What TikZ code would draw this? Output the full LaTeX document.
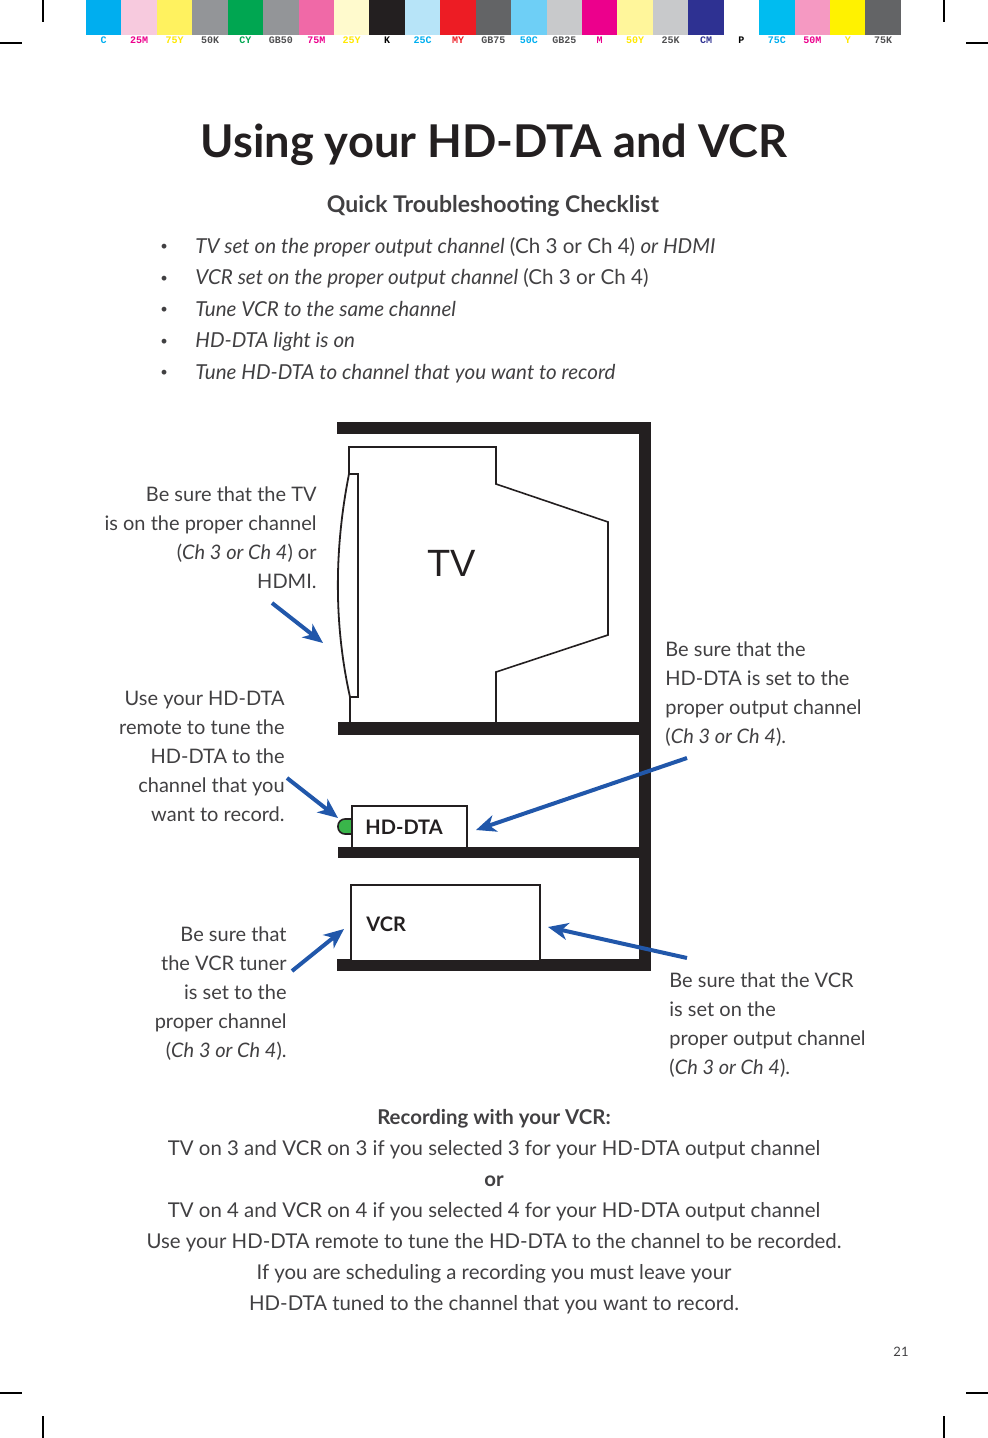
\documentclass[tikz,border=0pt]{standalone}
\usepackage{fontspec}
\setmainfont{Lato}
\newfontfamily\tvfont{Liberation Sans}
\newfontfamily\barfont{Liberation Mono}
\usetikzlibrary{calc, positioning, arrows.meta}
\definecolor{ink}{RGB}{35, 31, 32}
\definecolor{bodyText}{RGB}{65, 64, 66}
\definecolor{pointerBlue}{RGB}{33, 87, 170}
\definecolor{ledGreen}{RGB}{57, 181, 74}
% patch colours
\definecolor{pC}{RGB}{0, 174, 239}
\definecolor{p25M}{RGB}{247, 202, 222}
\definecolor{p75Y}{RGB}{255, 242, 95}
\definecolor{p50K}{RGB}{147, 149, 152}
\definecolor{pCY}{RGB}{0, 166, 81}
\definecolor{pGB50}{RGB}{147, 149, 152}
\definecolor{p75M}{RGB}{240, 105, 167}
\definecolor{p25Y}{RGB}{255, 250, 205}
\definecolor{pK}{RGB}{35, 31, 32}
\definecolor{p25C}{RGB}{183, 228, 248}
\definecolor{pMY}{RGB}{237, 28, 36}
\definecolor{pGB75}{RGB}{99, 100, 102}
\definecolor{p50C}{RGB}{110, 207, 246}
\definecolor{pGB25}{RGB}{200, 201, 203}
\definecolor{pM}{RGB}{236, 0, 140}
\definecolor{p50Y}{RGB}{255, 246, 155}
\definecolor{p25K}{RGB}{200, 201, 203}
\definecolor{pCM}{RGB}{46, 49, 146}
\definecolor{pP}{RGB}{255, 255, 255}
\definecolor{p75C}{RGB}{0, 188, 240}
\definecolor{p50M}{RGB}{245, 153, 194}
\definecolor{pY}{RGB}{255, 242, 0}
\definecolor{p75K}{RGB}{99, 100, 102}
% label colours
\definecolor{lCyan}{RGB}{0, 174, 239}
\definecolor{lMag}{RGB}{236, 0, 140}
\definecolor{lYel}{RGB}{255, 232, 0}
\definecolor{lGray}{RGB}{80, 80, 82}
\definecolor{lGreen}{RGB}{0, 166, 81}
\definecolor{lRed}{RGB}{237, 28, 36}
\definecolor{lBlue}{RGB}{46, 49, 146}
\newcommand{\checkdot}{\makebox[17.5pt][l]{\raisebox{1.2pt}{\fontsize{6.5}{6.5}\selectfont\textbullet}}}

\begin{document}
\begin{tikzpicture}[x=0.5pt, y=-0.5pt, >=Stealth,
    font=\fontsize{10}{14.5}\selectfont,
    shelf/.style={fill=ink, draw=none},
    device/.style={draw=ink, line width=0.8pt, fill=white, inner sep=0pt},
    devlabel/.style={text=ink, font=\fontsize{10}{12}\selectfont\bfseries, anchor=west, inner sep=0pt},
    note/.style={text=bodyText, inner sep=0pt},
    pointer/.style={draw=pointerBlue, line width=2pt, -{Stealth[length=10pt, width=8.5pt, inset=3pt]}},
    crop/.style={draw=black, line width=0.7pt}]
  \useasboundingbox (0,0) rectangle (988,1438);

  % Crop marks
  \draw[crop] (43,0) -- (43,22);   \draw[crop] (0,43) -- (22,43);
  \draw[crop] (944,0) -- (944,22); \draw[crop] (966,43) -- (988,43);
  \draw[crop] (0,1393) -- (22,1393); \draw[crop] (43,1416) -- (43,1438);
  \draw[crop] (966,1393) -- (988,1393); \draw[crop] (944,1416) -- (944,1438);

  % Colour bar
  \foreach \pc/\lab/\lc [count=\i from 0] in {pC/C/lCyan, p25M/25M/lMag, p75Y/75Y/lYel,
      p50K/50K/lGray, pCY/CY/lGreen, pGB50/GB50/lGray, p75M/75M/lMag, p25Y/25Y/lYel,
      pK/K/black, p25C/25C/lCyan, pMY/MY/lRed, pGB75/GB75/lGray, p50C/50C/lCyan,
      pGB25/GB25/lGray, pM/M/lMag, p50Y/50Y/lYel, p25K/25K/lGray, pCM/CM/lBlue,
      pP/P/black, p75C/75C/lCyan, p50M/50M/lMag, pY/Y/lYel, p75K/75K/lGray} {
    \fill[\pc] ({86+35.43*\i},0) rectangle ({86+35.43*(\i+1)},35);
    \node[text=\lc, font=\barfont\fontsize{5}{6}\selectfont\bfseries, inner sep=0pt]
      (bar\i) at ({86+35.43*(\i+0.5)},40) {\lab};
  }

  % Headings
  \node[text=ink, font=\fontsize{22.6}{26}\selectfont\bfseries, anchor=base] (title) at (494,158)
    {Using your HD-DTA and VCR};
  \node[text=bodyText, font=\fontsize{11.5}{14}\selectfont\bfseries, anchor=base] (subtitle) at (493,213)
    {Quick Troubleshooting Checklist};

  % Checklist
  \node[note, align=left, anchor=north west, font=\fontsize{10.3}{15.75}\selectfont] (checklist) at (160,237)
    {\checkdot\textit{TV set on the proper output channel} (Ch 3 or Ch 4) \textit{or HDMI}\\
     \checkdot\textit{VCR set on the proper output channel} (Ch 3 or Ch 4)\\
     \checkdot\textit{Tune VCR to the same channel}\\
     \checkdot\textit{HD-DTA light is on}\\
     \checkdot\textit{Tune HD-DTA to channel that you want to record}};

  % Cabinet
  \fill[shelf] (337,422) rectangle (651,434);
  \fill[shelf] (639,422) rectangle (651,971);
  \fill[shelf] (338,722) rectangle (651,735);
  \fill[shelf] (338,847) rectangle (651,858);
  \fill[shelf] (337,959) rectangle (651,971);

  % TV
  \draw[ink, line width=0.8pt] (349,474) -- (349,447) -- (496,447) -- (496,484) -- (608,522)
    -- (608,635) -- (496,672) -- (496,722);
  \draw[ink, line width=0.8pt] (350,697) -- (350,722);
  \draw[ink, line width=0.8pt] (349,474) -- (358,474) -- (358,697) -- (350,697);
  \draw[ink, line width=0.9pt] (349,474) .. controls (334,550) and (334,625) .. (350,697);
  \node[text=ink, font=\tvfont\fontsize{19}{22}\selectfont, inner sep=0pt] (tv) at (452,563) {TV};

  % HD-DTA and VCR
  \filldraw[fill=ledGreen, draw=ink, line width=0.8pt, rounded corners=3.5pt] (338,819) rectangle (358,834);
  \node[device, anchor=north west, minimum width=57.5pt, minimum height=21pt] (hddta) at (351,805) {};
  \node[devlabel] (hdlabel) at (365,827) {HD-DTA};
  \node[device, anchor=north west, minimum width=94.5pt, minimum height=38pt] (vcr) at (350,884) {};
  \node[devlabel] (vcrlabel) at (366,924) {VCR};

  % Notes
  \node[note, align=right, anchor=north east] (tvnote) at (317,486)
    {Be sure that the TV\\ is on the proper channel\\ (\textit{Ch 3 or Ch 4}) or\\ HDMI.};
  \node[note, align=right, anchor=north east] (remotenote) at (285,691)
    {Use your HD-DTA\\ remote to tune the\\ HD-DTA to the\\ channel that you\\ want to record.};
  \node[note, align=right, anchor=north east] (tunernote) at (287,926)
    {Be sure that\\ the VCR tuner\\ is set to the\\ proper channel\\ (\textit{Ch 3 or Ch 4}).};
  \node[note, align=left, anchor=north west] (hdnote) at (665,641)
    {Be sure that the\\ HD-DTA is set to the\\ proper output channel\\ (\textit{Ch 3 or Ch 4}).};
  \node[note, align=left, anchor=north west] (vcrnote) at (669,972)
    {Be sure that the VCR\\ is set on the\\ proper output channel\\ (\textit{Ch 3 or Ch 4}).};

  % Pointers
  \coordinate (tvTail) at (272,603);    \coordinate (tvTip) at (323,643);
  \coordinate (remTail) at (287,778);   \coordinate (remTip) at (338,818);
  \coordinate (hdTail) at (687,758);    \coordinate (hdTip) at (476,830);
  \coordinate (vcrTail) at (687,958);   \coordinate (vcrTip) at (548,927);
  \coordinate (tunTail) at (292,971);   \coordinate (tunTip) at (344,929);
  \draw[pointer] (tvTail) -- (tvTip);
  \draw[pointer] (remTail) -- (remTip);
  \draw[pointer] (hdTail) -- (hdTip);
  \draw[pointer] (vcrTail) -- (vcrTip);
  \draw[pointer] (tunTail) -- (tunTip);

  % Recording
  \node[note, align=center, anchor=north, font=\fontsize{10.2}{15.5}\selectfont] (recording) at (494,1109)
    {\textbf{Recording with your VCR:}\\
     TV on 3 and VCR on 3 if you selected 3 for your HD-DTA output channel\\
     \textbf{or}\\
     TV on 4 and VCR on 4 if you selected 4 for your HD-DTA output channel\\
     Use your HD-DTA remote to tune the HD-DTA to the channel to be recorded.\\
     If you are scheduling a recording you must leave your\\
     HD-DTA tuned to the channel that you want to record.};

  % Page number
  \node[note, font=\fontsize{6.5}{8}\selectfont] (pagenum) at (901,1352) {21};
\end{tikzpicture}
\end{document}
